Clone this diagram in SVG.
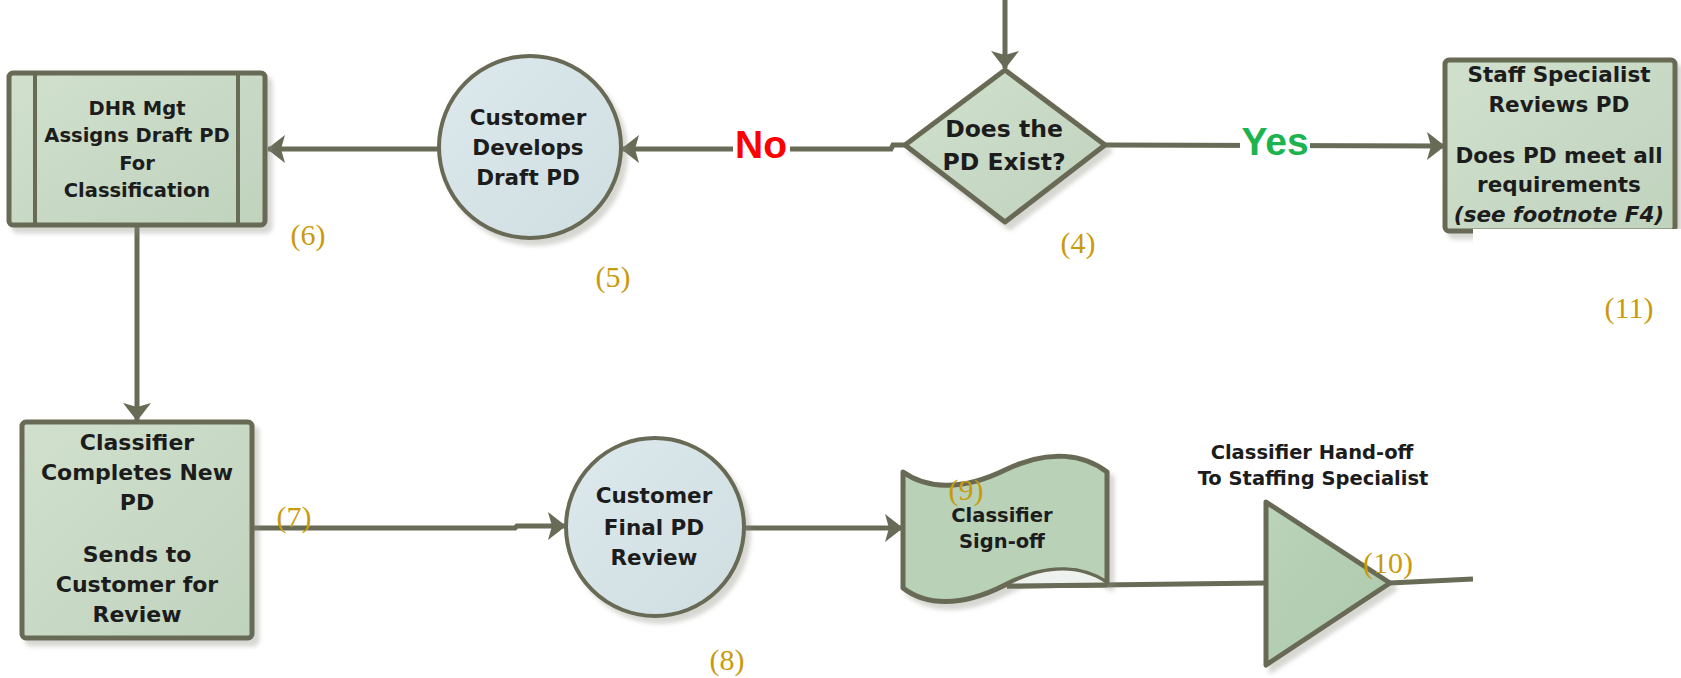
<svg xmlns="http://www.w3.org/2000/svg" width="1681" height="678" viewBox="0 0 1681 678">
<defs>
<style>
.box{fill:url(#gBox);stroke:#686b56;stroke-width:5;stroke-linejoin:round}
.circ{fill:url(#gCirc);stroke:#686b56;stroke-width:4}
.edge{fill:none;stroke:#686b56;stroke-width:5}
.t{font-family:"DejaVu Sans",sans-serif;font-weight:bold;fill:#1c1c1c;text-anchor:middle}
.num{font-family:"Liberation Serif","Times New Roman",serif;font-size:30px;fill:#c99a0c;text-anchor:middle}
.lbl{font-family:"Liberation Sans",Arial,sans-serif;font-weight:bold;font-size:39px;text-anchor:middle}
</style>
<linearGradient id="gBox" x1="0" y1="0" x2="1" y2="1">
<stop offset="0" stop-color="#d0e0cd"/><stop offset="1" stop-color="#c0d3bd"/>
</linearGradient>
<linearGradient id="gCirc" x1="0" y1="0" x2="1" y2="1">
<stop offset="0" stop-color="#dde9ec"/><stop offset="1" stop-color="#cfdee1"/>
</linearGradient>
<linearGradient id="gTri" x1="0" y1="0" x2="1" y2="1">
<stop offset="0" stop-color="#bad3b9"/><stop offset="1" stop-color="#adc9ad"/>
</linearGradient>
<filter id="sh" x="-10%" y="-10%" width="130%" height="130%">
<feDropShadow dx="5" dy="6" stdDeviation="2" flood-color="#8a8a80" flood-opacity="0.35"/>
</filter>
<marker id="arr" markerUnits="userSpaceOnUse" markerWidth="18" markerHeight="28" refX="17" refY="14" orient="auto">
<path d="M0,0 L18,14 L0,28 L4,14 Z" fill="#686b56"/>
</marker>
</defs>
<rect width="1681" height="678" fill="#ffffff"/>

<g id="connectors">
<path class="edge" d="M1005,0 L1005,68" marker-end="url(#arr)"/>
<path class="edge" d="M905,145 L893,145 L891,149 L622,149" marker-end="url(#arr)"/>
<path class="edge" d="M1105,145 L1444,146" marker-end="url(#arr)"/>
<path class="edge" d="M439,149 L268,149" marker-end="url(#arr)"/>
<path class="edge" d="M137,226 L137,420" marker-end="url(#arr)"/>
<path class="edge" d="M252,528 L515,528 L517,526 L565,526" marker-end="url(#arr)"/>
<path class="edge" d="M745,528 L902,528" marker-end="url(#arr)"/>
<path class="edge" d="M1007,586 L1266,583"/>
<path class="edge" d="M1390,583 L1473,579"/>
<rect x="733" y="126" width="57" height="38" fill="#ffffff"/>
<text class="lbl" x="761" y="158" fill="#ff0000">No</text>
<rect x="1240" y="124" width="70" height="40" fill="#ffffff"/>
<text class="lbl" x="1275" y="155" fill="#1db34f">Yes</text>
</g>

<g id="n6">
<rect class="box" x="9" y="73" width="256" height="152" rx="4" filter="url(#sh)"/>
<line x1="35" y1="73" x2="35" y2="225" stroke="#686b56" stroke-width="4"/>
<line x1="238" y1="73" x2="238" y2="225" stroke="#686b56" stroke-width="4"/>
<text class="t" font-size="19.5" x="137" y="115">DHR Mgt</text>
<text class="t" font-size="19.5" x="137" y="142">Assigns Draft PD</text>
<text class="t" font-size="19.5" x="137" y="170">For</text>
<text class="t" font-size="19.5" x="137" y="197">Classification</text>
<text class="num" x="308" y="245">(6)</text>
</g>

<g id="n5">
<circle class="circ" cx="530" cy="147" r="91" filter="url(#sh)"/>
<text class="t" font-size="21.5" x="528" y="125">Customer</text>
<text class="t" font-size="21.5" x="528" y="155">Develops</text>
<text class="t" font-size="21.5" x="528" y="185">Draft PD</text>
<text class="num" x="613" y="287">(5)</text>
</g>

<g id="n4">
<path class="box" d="M1005,70 L1105,145 L1005,222 L905,145 Z" filter="url(#sh)"/>
<text class="t" font-size="23.5" x="1004" y="137">Does the</text>
<text class="t" font-size="23.5" x="1004" y="170">PD Exist?</text>
<text class="num" x="1078" y="253">(4)</text>
</g>

<g id="n11">
<rect class="box" x="1445" y="60" width="230" height="171" rx="4" filter="url(#sh)"/>
<rect x="1473" y="229" width="208" height="30" fill="#ffffff"/>
<text class="t" font-size="21.5" x="1559" y="82">Staff Specialist</text>
<text class="t" font-size="21.5" x="1559" y="112">Reviews PD</text>
<text class="t" font-size="21.5" x="1559" y="163">Does PD meet all</text>
<text class="t" font-size="21.5" x="1559" y="192">requirements</text>
<text class="t" font-size="21.5" x="1559" y="222" font-style="italic">(see footnote F4)</text>
<text class="num" x="1629" y="318">(11)</text>
</g>

<g id="n7">
<rect class="box" x="22" y="422" width="230" height="216" rx="4" filter="url(#sh)"/>
<text class="t" font-size="22" x="137" y="450">Classifier</text>
<text class="t" font-size="22" x="137" y="480">Completes New</text>
<text class="t" font-size="22" x="137" y="510">PD</text>
<text class="t" font-size="22" x="137" y="562">Sends to</text>
<text class="t" font-size="22" x="137" y="592">Customer for</text>
<text class="t" font-size="22" x="137" y="622">Review</text>
<text class="num" x="294" y="527">(7)</text>
</g>

<g id="n8">
<circle class="circ" cx="655" cy="527" r="89" filter="url(#sh)"/>
<text class="t" font-size="21.5" x="654" y="503">Customer</text>
<text class="t" font-size="21.5" x="654" y="535">Final PD</text>
<text class="t" font-size="21.5" x="654" y="565">Review</text>
<text class="num" x="727" y="670">(8)</text>
</g>

<g id="n9">
<path d="M903,472 C925,488 960,492 1005,470 C1050,448 1085,455 1107,472 L1107,583 C1085,568 1050,562 1005,585 C960,608 925,605 903,588 Z" fill="#b9d1b7" stroke="#686b56" stroke-width="5" stroke-linejoin="round" filter="url(#sh)"/>
<path d="M1009,585 C1045,566 1080,566 1105,583 Z" fill="#eef2ee"/>
<path class="edge" d="M1007,586 L1107,585"/>
<text class="t" font-size="19.5" x="1002" y="522">Classifier</text>
<text class="t" font-size="19.5" x="1002" y="548">Sign-off</text>
<text class="num" x="966" y="500">(9)</text>
</g>

<g id="n10">
<path d="M1266,502 L1390,583 L1266,665 Z" fill="url(#gTri)" stroke="#686b56" stroke-width="5" stroke-linejoin="round" filter="url(#sh)"/>
<text class="t" font-size="19.5" x="1312" y="459">Classifier Hand-off</text>
<text class="t" font-size="19.5" x="1313" y="485">To Staffing Specialist</text>
<text class="num" x="1388" y="573">(10)</text>
</g>
</svg>
